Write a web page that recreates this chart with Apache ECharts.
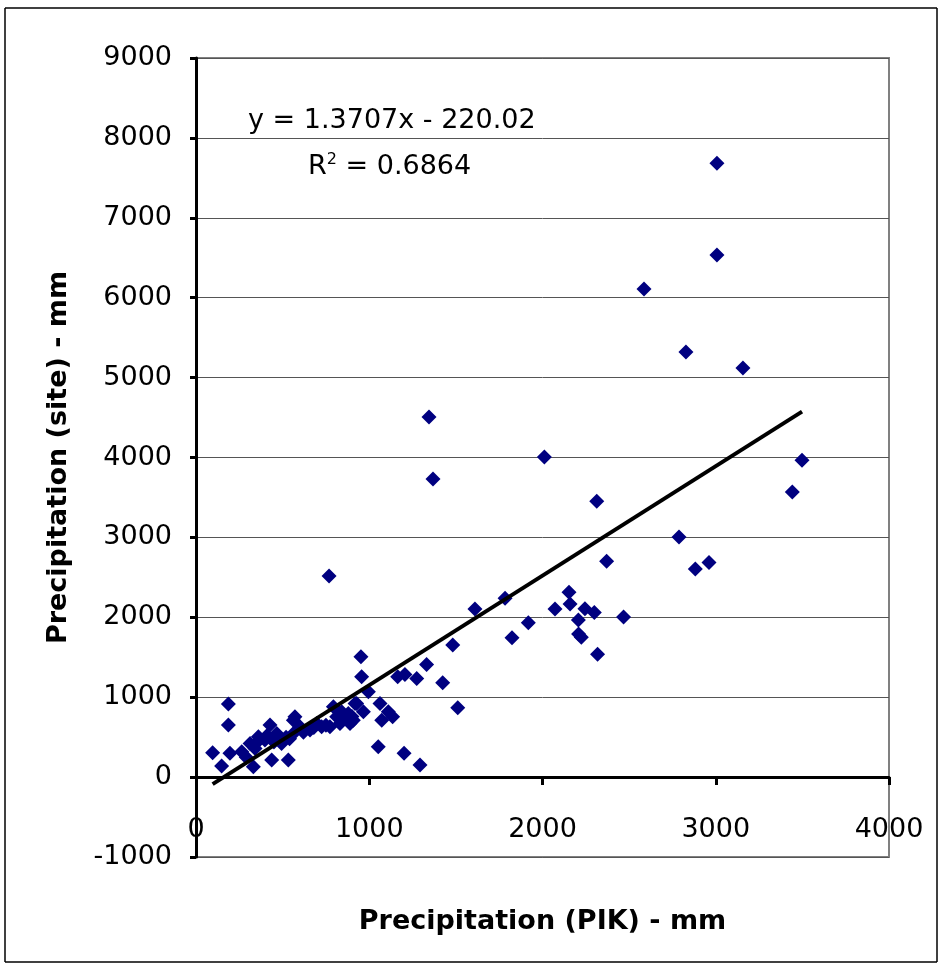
<!DOCTYPE html>
<html>
<head>
<meta charset="utf-8">
<title>Precipitation site vs PIK</title>
<script src="https://cdn.jsdelivr.net/npm/echarts@6/dist/echarts.min.js"></script>
<style>
  html, body { margin: 0; padding: 0; background: #fff; }
  #main { width: 940px; height: 964px; }
</style>
</head>
<body>
<div id="main"></div>
<script>
// precipitation from PIK dataset (mm)
const pikVals = [
  3007, 3007, 2586, 2828, 3157, 1345, 1368, 2011, 3498, 3442, 2313, 2788, 2370, 2882, 2961, 768,
  1610, 1784, 1824, 1918, 2072, 2153, 2159, 2245, 2207, 2299, 2208, 2224, 2318, 2468, 1482,
  952, 956, 995, 1164, 1206, 1274, 1331, 1424, 1511,
  1062, 918, 966, 908, 1110, 1072, 1135, 1052, 1201, 1293,
  187, 187, 96, 148, 196, 264, 312, 331, 360, 398, 427, 437, 466, 494, 533, 562, 562, 341,
  571, 600, 658, 725, 793, 812, 841, 879, 927, 889, 831, 773, 697,
  290, 350, 410, 450, 480, 520, 540, 620, 680, 750, 840, 900
];
// precipitation measured at site (mm)
const siteVals = [
  7684, 6533, 6108, 5319, 5119, 4506, 3730, 4005, 3967, 3567, 3454, 3004, 2703, 2603, 2687, 2516,
  2103, 2237, 1744, 1932, 2103, 2312, 2165, 2107, 1965, 2061, 1790, 1750, 1539, 2003, 1652,
  1506, 1255, 1068, 1255, 1285, 1235, 1410, 1180, 867,
  922, 922, 817, 713, 817, 713, 754, 379, 297, 150,
  914, 651, 304, 138, 297, 317, 422, 129, 504, 463, 651, 213, 547, 422, 213, 713, 547, 359,
  755, 630, 588, 630, 880, 755, 817, 797, 922, 672, 672, 630, 672,
  250, 430, 520, 440, 470, 500, 480, 560, 620, 650, 720, 760
];
const xTicks = [0, 1000, 2000, 3000, 4000];
const yTicks = [-1000, 0, 1000, 2000, 3000, 4000, 5000, 6000, 7000, 8000, 9000];

// linear trendline shown in the chart
const slope = 1.3707;
const intercept = -220.02;
const r2 = 0.6864;

const points = pikVals.map((x, i) => [x, siteVals[i]]);
const xMin = Math.min(...pikVals);
const xMax = Math.max(...pikVals);
const trend = [[xMin, slope * xMin + intercept], [xMax, slope * xMax + intercept]];

const font = 'DejaVu Sans';
const plain = v => String(v);

const chart = echarts.init(document.getElementById('main'));

// thin frame round the whole chart
const frame = { x0: 5, y0: 8, x1: 937, y1: 962 };
const frameEdges = [
  [frame.x0, frame.y0, frame.x1, frame.y0],
  [frame.x1, frame.y0, frame.x1, frame.y1],
  [frame.x0, frame.y1, frame.x1, frame.y1],
  [frame.x0, frame.y0, frame.x0, frame.y1]
].map(([a, b, c, d]) => ({
  type: 'line',
  shape: { x1: a, y1: b, x2: c, y2: d },
  style: { stroke: '#000', lineWidth: 1.5 },
  silent: true
}));

const option = {
  animation: false,
  backgroundColor: '#fff',
  grid: {
    left: 196, right: 51, top: 58, bottom: 107,
    outerBoundsMode: 'none',
    containLabel: false,
    show: true, borderColor: '#808080', borderWidth: 2, backgroundColor: 'transparent'
  },
  xAxis: {
    type: 'value',
    min: xTicks[0], max: xTicks[xTicks.length - 1], interval: 1000,
    name: 'Precipitation (PIK) - mm',
    nameLocation: 'middle',
    nameGap: 51,
    nameTextStyle: { fontFamily: font, fontSize: 27, fontWeight: 'bold', color: '#000' },
    // line and ticks sit on y = 0, labels stay near the bottom of the grid
    axisLine: { onZero: true, lineStyle: { color: '#000', width: 3 } },
    axisTick: { show: true, length: 8, lineStyle: { color: '#000', width: 3 } },
    axisLabel: { margin: -41, fontFamily: font, fontSize: 27, color: '#000', formatter: plain },
    splitLine: { show: false },
    z: 1
  },
  yAxis: {
    type: 'value',
    min: yTicks[0], max: yTicks[yTicks.length - 1], interval: 1000,
    name: 'Precipitation (site) - mm',
    nameLocation: 'middle',
    nameGap: 124,
    nameTextStyle: { fontFamily: font, fontSize: 27, fontWeight: 'bold', color: '#000' },
    axisLine: { onZero: false, lineStyle: { color: '#000', width: 3 } },
    axisTick: { show: true, length: 6, lineStyle: { color: '#000', width: 3 } },
    axisLabel: { margin: 24, fontFamily: font, fontSize: 27, color: '#000', formatter: plain },
    splitLine: { show: true, lineStyle: { color: '#555', width: 1 } },
    z: 1
  },
  series: [
    {
      type: 'scatter',
      data: points,
      symbol: 'diamond',
      symbolSize: 15,
      itemStyle: { color: '#000080', opacity: 1 },
      z: 2
    },
    {
      type: 'line',
      data: trend,
      symbol: 'none',
      lineStyle: { color: '#000', width: 4 },
      z: 3
    }
  ],
  graphic: frameEdges.concat([
    {
      type: 'text',
      left: 248, top: 107,
      style: {
        text: 'y = ' + slope + 'x - ' + Math.abs(intercept).toFixed(2),
        font: '27px "DejaVu Sans"', fill: '#000'
      }
    },
    {
      type: 'text',
      left: 308, top: 152,
      style: {
        text: '{b|R}{s|2}{b| = ' + r2 + '}',
        fill: '#000',
        rich: {
          b: { fontFamily: font, fontSize: 27, color: '#000', verticalAlign: 'bottom' },
          s: { fontFamily: font, fontSize: 16, color: '#000', verticalAlign: 'top', padding: [0, 0, 12, 0] }
        }
      }
    }
  ])
};

chart.setOption(option);
</script>
</body>
</html>
